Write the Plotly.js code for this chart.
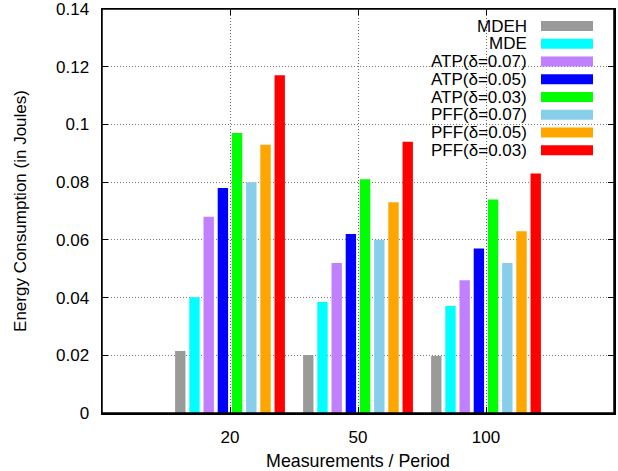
<!DOCTYPE html>
<html>
<head>
<meta charset="utf-8">
<script src="https://cdn.plot.ly/plotly-3.0.1.min.js"></script>
<style>
html,body{margin:0;padding:0;background:#fff;overflow:hidden;}
#chart{width:618px;height:471px;}
</style>
</head>
<body>
<div id="chart"></div>
<script>
const categories = ["20", "50", "100"];
const seriesNames = ["MDEH", "MDE", "ATP(δ=0.07)", "ATP(δ=0.05)", "ATP(δ=0.03)", "PFF(δ=0.07)", "PFF(δ=0.05)", "PFF(δ=0.03)"];
const seriesColors = ["#9a9a9a", "#00ffff", "#c080ff", "#0000ff", "#00ff00", "#87ceeb", "#ffa500", "#ff0000"];
const mdeh   = [0.0215, 0.0201, 0.0198];
const mde    = [0.0401, 0.0385, 0.0371];
const atp007 = [0.068, 0.052, 0.046];
const atp005 = [0.078, 0.062, 0.057];
const atp003 = [0.097, 0.081, 0.074];
const pff007 = [0.080, 0.060, 0.052];
const pff005 = [0.093, 0.073, 0.063];
const pff003 = [0.117, 0.094, 0.083];
const seriesValues = [mdeh, mde, atp007, atp005, atp003, pff007, pff005, pff003];
const yTicks = [0, 0.02, 0.04, 0.06, 0.08, 0.1, 0.12, 0.14];

const FONT = "Liberation Sans, Arial, Helvetica, sans-serif";
const FS = 17;
const W = 618, H = 471;
const M = {l: 102, r: 4, t: 9, b: 58};
const plotW = W - M.l - M.r, plotH = H - M.t - M.b;

const traces = seriesNames.map((name, i) => ({
  type: "bar",
  name: name,
  x: categories,
  y: seriesValues[i],
  marker: {color: seriesColors[i], line: {width: 0}},
  showlegend: false,
  hoverinfo: "skip"
}));

// custom legend: text right-aligned, swatch on the right (gnuplot style)
const annotations = [];
const shapes = [];
const rowTop = 26, rowStep = 17.76;
const textRight = 529, swL = 541, swR = 593, swH = 10;
seriesNames.forEach((name, i) => {
  const cy = rowTop + i * rowStep;
  annotations.push({
    xref: "paper", yref: "paper",
    x: (textRight - M.l) / plotW, y: (H - M.b - cy) / plotH,
    xanchor: "right", yanchor: "middle",
    text: name, showarrow: false,
    font: {family: FONT, size: FS, color: "#000"}
  });
  shapes.push({
    type: "rect", xref: "paper", yref: "paper",
    x0: (swL - M.l) / plotW, x1: (swR - M.l) / plotW,
    y0: (H - M.b - cy - swH / 2) / plotH, y1: (H - M.b - cy + swH / 2) / plotH,
    fillcolor: seriesColors[i], line: {width: 0}
  });
});
// plot frame
shapes.push({
  type: "rect", xref: "paper", yref: "paper", x0: 0, x1: 1, y0: 0, y1: 1,
  line: {color: "#000", width: 1.5}, fillcolor: "rgba(0,0,0,0)", layer: "above"
});

const layout = {
  width: W, height: H,
  margin: M,
  paper_bgcolor: "#fff", plot_bgcolor: "#fff",
  barmode: "group",
  bargap: 0.112,
  bargroupgap: 0.27,
  showlegend: false,
  font: {family: FONT, size: FS, color: "#000"},
  xaxis: {
    type: "category",
    range: [-1, 3],
    showline: true, linecolor: "#000", linewidth: 1.5, mirror: "allticks",
    ticks: "inside", ticklen: 6, tickcolor: "#000", tickwidth: 1,
    showgrid: true, gridcolor: "#666", griddash: "1px,2px", gridwidth: 1,
    tickfont: {family: FONT, size: FS},
    ticklabelstandoff: 8,
    ticklabeloverflow: "allow",
    title: {text: "Measurements / Period", font: {family: FONT, size: 17.8}, standoff: 10},
    automargin: false,
    fixedrange: true
  },
  yaxis: {
    range: [0, 0.14],
    tickvals: yTicks,
    ticktext: yTicks.map(v => String(v)),
    showline: true, linecolor: "#000", linewidth: 1.5, mirror: "allticks",
    ticks: "inside", ticklen: 6, tickcolor: "#000", tickwidth: 1,
    showgrid: true, gridcolor: "#777", griddash: "1px,2px", gridwidth: 1,
    zeroline: false,
    tickfont: {family: FONT, size: FS},
    ticklabelstandoff: 8,
    ticklabeloverflow: "allow",
    title: {text: "Energy Consumption (in Joules)", font: {family: FONT, size: FS}, standoff: 25},
    automargin: false,
    fixedrange: true
  },
  annotations: annotations,
  shapes: shapes
};

Plotly.newPlot("chart", traces, layout, {staticPlot: true, displayModeBar: false});
</script>
</body>
</html>
